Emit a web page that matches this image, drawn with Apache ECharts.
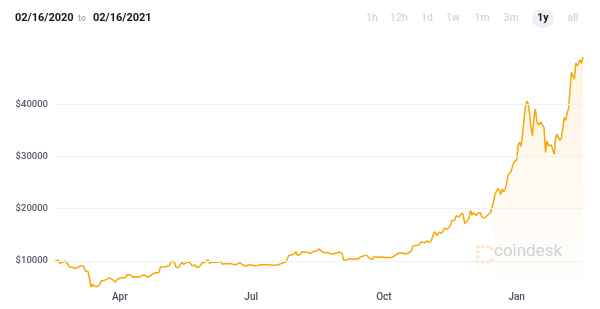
<!DOCTYPE html>
<html>
<head>
<meta charset="utf-8">
<script src="https://cdn.jsdelivr.net/npm/echarts@6/dist/echarts.min.js"></script>
<style>
html,body{margin:0;padding:0;background:#fff;}
#c{width:600px;height:309px;}
</style>
</head>
<body>
<div id="c"></div>
<script>
// Daily BTC price (USD)
const p2002 = [9900,9700,10180,9600,9610,9690,9660,9960,9650,9310,8790,8810,8710,8530]; // from Feb 16
const p2003 = [8530,8910,8760,8750,9070,9150,8890,8030,7930,7900,7940,4970,5560,5170,5360,5030,5330,5400,6190,6200,6190,5830,6490,6760,6690,6760,6380,6250,5880,6400,6440];
const p2004 = [6650,6800,6750,6860,6780,7300,7200,7370,7300,6870,6890,6920,6860,6850,6640,7120,7100,7260,7120,6850,6860,7130,7490,7510,7540,7700,7790,7760,8780,8620];
const p2005 = [8830,8970,8900,8880,9030,9150,9990,9810,9540,8730,8560,8810,9310,9790,9310,9380,9670,9730,9780,9510,9070,9170,9180,8720,8900,8840,9200,9570,9430,9700,9450];
const p2006 = [10200,9520,9660,9790,9620,9670,9750,9780,9770,9870,9320,9470,9470,9350,9430,9520,9460,9380,9300,9360,9300,9680,9630,9290,9250,9160,9000,9120,9190,9140];
const p2007 = [9230,9090,9070,9130,9080,9340,9250,9440,9240,9290,9240,9300,9240,9260,9190,9130,9160,9170,9210,9160,9390,9540,9610,9550,9710,9930,11030,10930,11100,11110,11350];
const p2008 = [11800,11070,11230,11190,11750,11770,11600,11760,11680,11880,11400,11580,11780,11770,11860,11910,12290,11960,11760,11860,11530,11680,11650,11750,11330,11460,11320,11530,11480,11710,11680];
const p2009 = [11970,11420,10170,10470,10170,10250,10380,10130,10240,10360,10400,10440,10330,10680,10790,10960,10950,10940,11090,10920,10420,10530,10240,10740,10690,10730,10780,10700,10840,10780];
const p2010 = [10620,10570,10550,10670,10790,10600,10670,10920,11060,11300,11380,11540,11420,11430,11500,11320,11360,11490,11750,11910,12820,12980,12930,13120,13030,13070,13640,13270,13460,13560,13800];
const p2011 = [13760,13550,14020,14150,15590,15580,14840,15480,15330,15300,15700,16280,16320,16070,15960,16720,17660,17800,17820,18650,18680,18420,18370,19160,18740,17150,17140,17720,18180,19700];
const p2012 = [18790,19230,19450,18700,19150,19360,19170,18320,18560,18260,18060,18800,19170,19270,19430,21350,22800,23130,23870,23480,22740,23820,23240,23730,24710,26490,26280,27080,27360,28900,29000];
const p2101 = [29370,32130,32780,31970,33990,36820,39370,40670,40240,38240,35540,34010,37390,39160,36830,36060,35820,36630,36020,35530,30820,33010,32090,32290,32250,32510,30430,33470,34320,34320,33110];
const p2102 = [33520,35510,37480,36950,38290,39260,38900,46200,46480,44850,47970,47410,47200,48590,47910,49130]; // to Feb 16

const monthKeys = ['2020-02','2020-03','2020-04','2020-05','2020-06','2020-07','2020-08','2020-09','2020-10','2020-11','2020-12','2021-01','2021-02'];
const monthFirstDay = [16,1,1,1,1,1,1,1,1,1,1,1,1];
const monthValues = [p2002,p2003,p2004,p2005,p2006,p2007,p2008,p2009,p2010,p2011,p2012,p2101,p2102];

const xTickDates = ['2020-04-01','2020-07-01','2020-10-01','2021-01-01'];
const xTickLabels = ['Apr','Jul','Oct','Jan'];
const yTicks = [10000,20000,30000,40000];
const fillFrom = '2020-12-16';

const dates = [], prices = [];
monthKeys.forEach((m, mi) => {
  monthValues[mi].forEach((v, i) => {
    const d = monthFirstDay[mi] + i;
    dates.push(m + '-' + (d < 10 ? '0' + d : '' + d));
    prices.push(v);
  });
});
const fillIdx = dates.indexOf(fillFrom);
const fillData = prices.map((v, i) => i >= fillIdx ? v : null);

const chart = echarts.init(document.getElementById('c'), null, {renderer: 'canvas'});
const FONT = 'Roboto, "Noto Sans", sans-serif';
const ranges = ['1h','12h','1d','1w','1m','3m','1y','all'];
const rangeX = [372,399,427,453,482,511,543,573];

const graphics = [
  {type:'text', x:15, y:18, style:{text:'02/16/2020', font:'bold 11px ' + FONT, fill:'#15151f', verticalAlign:'middle'}},
  {type:'text', x:82, y:18.5, style:{text:'to', font:'500 9px ' + FONT, fill:'#a4a6b8', align:'center', verticalAlign:'middle'}},
  {type:'text', x:93, y:18, style:{text:'02/16/2021', font:'bold 11px ' + FONT, fill:'#15151f', verticalAlign:'middle'}},
  {type:'rect', shape:{x:532, y:9, width:22, height:19, r:9.5}, style:{fill:'#eef0f6'}},
];
ranges.forEach((r, i) => {
  graphics.push({type:'text', x:rangeX[i], y:18.5,
    style:{text:r, font:(r === '1y' ? 'bold ' : '500 ') + '10.5px ' + FONT,
      fill: r === '1y' ? '#15151f' : '#d3d5e3', align:'center', verticalAlign:'middle'}});
});
// coindesk watermark
const dot = '#fde6bd';
[[476,245],[481,245],[486,245],[476,250],[476,255],[476,260],[481,260],[486,260],[490,247],[490,258]].forEach(p => {
  graphics.push({type:'rect', shape:{x:p[0], y:p[1], width:3.5, height:3.5, r:1.5}, style:{fill:dot}, z:1});
});
graphics.push({type:'text', left:494, top:243, style:{text:'coindesk', font:'17px ' + FONT, fill:'#cdd0dc'}, z:1});

chart.setOption({
  animation: false,
  backgroundColor: '#fff',
  grid: {left:55, right:17, top:57, bottom:22},
  graphic: graphics,
  xAxis: {
    type:'category', data:dates, boundaryGap:false,
    axisLine:{show:false}, axisTick:{show:false}, splitLine:{show:false},
    axisLabel:{
      interval:(idx, val) => xTickDates.includes(val),
      formatter:(val) => xTickLabels[xTickDates.indexOf(val)] || '',
      color:'#4b4d5e', fontFamily:FONT, fontSize:10, fontWeight:500, margin:5
    }
  },
  yAxis: {
    type:'value', min:'dataMin', max:'dataMax', scale:true,
    axisLine:{show:false}, axisTick:{show:false}, splitLine:{show:false},
    axisLabel:{customValues:yTicks, formatter:(v) => '$' + v,
      color:'#5a5c6c', fontFamily:FONT, fontSize:9.5, fontWeight:500, margin:7}
  },
  series: [
    {
      type:'line', data:fillData, showSymbol:false, silent:true,
      lineStyle:{width:0}, connectNulls:false, z:1,
      areaStyle:{color:new echarts.graphic.LinearGradient(0,0,0,1,[
        {offset:0, color:'rgba(252,196,80,0.24)'},
        {offset:1, color:'rgba(252,196,80,0.02)'}
      ])}
    },
    {
      type:'line', data:prices, showSymbol:false, silent:true, z:3,
      lineStyle:{color:'#f6a80b', width:1.5},
      markLine:{
        silent:true, symbol:'none', label:{show:false},
        lineStyle:{color:'#eff0f6', width:1, type:'solid'},
        data: yTicks.map(v => ({yAxis:v}))
      }
    }
  ]
});
</script>
</body>
</html>
